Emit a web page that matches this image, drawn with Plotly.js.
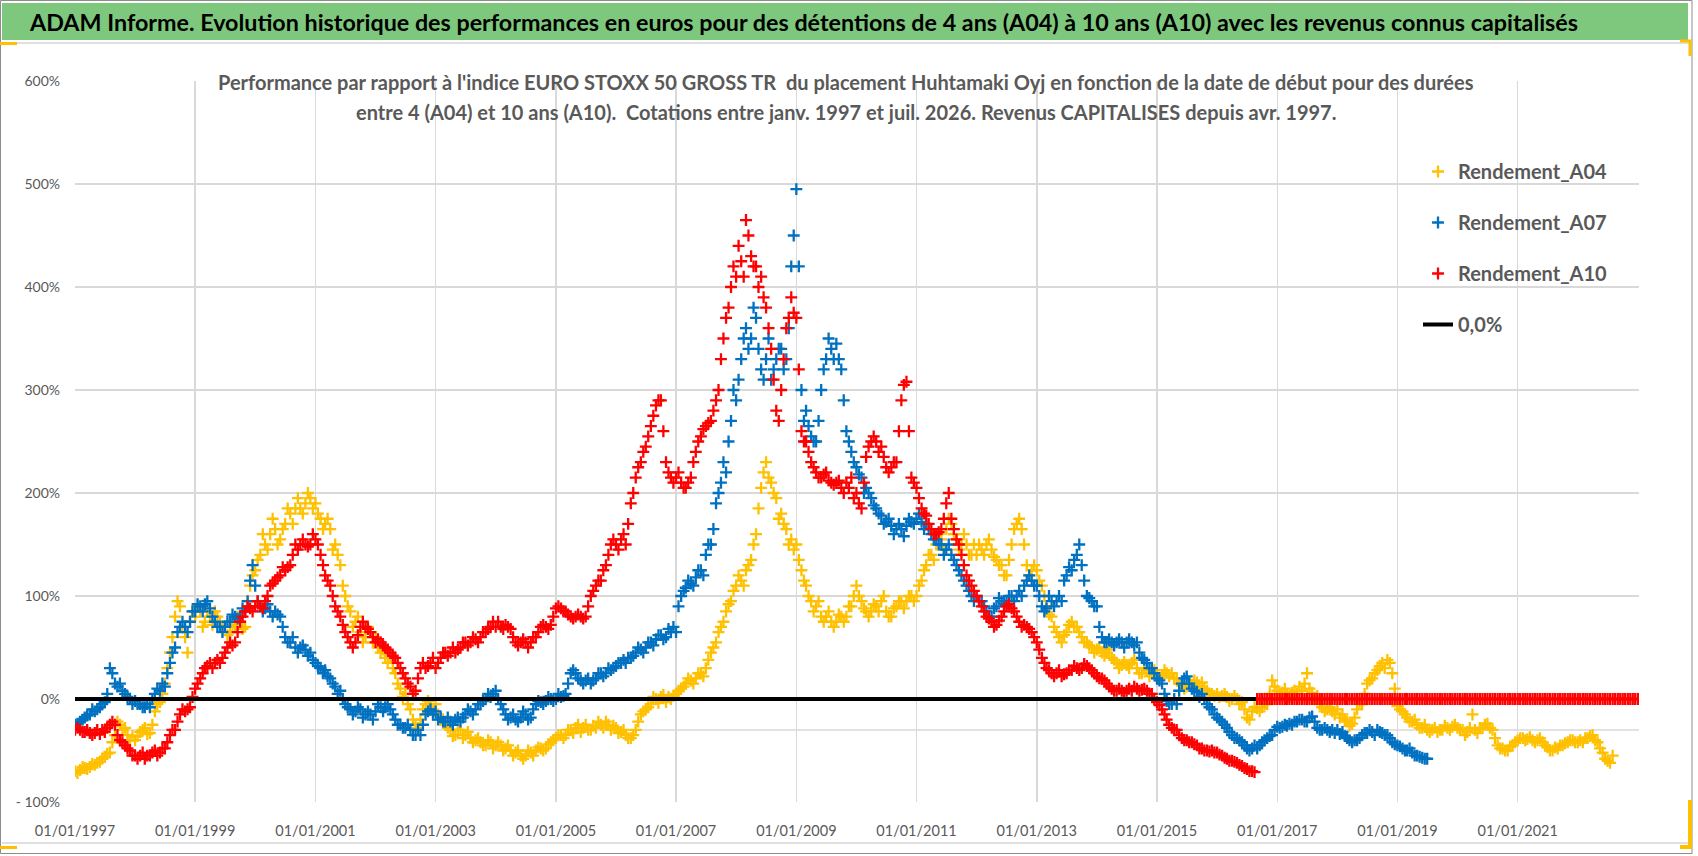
<!DOCTYPE html>
<html>
<head>
<meta charset="utf-8">
<script src="https://cdn.plot.ly/plotly-3.0.1.min.js"></script>
<style>
  body { margin: 0; background: #fff; }
  #chart { width: 1698px; height: 856px; }
</style>
</head>
<body>
<div id="chart"></div>
<script>
// readings (%) on the 1st of each month, first value = january 1997
var a04Start = [1997, 1];
var a04Values = [
  -70, -69, -67, -66, -64, -61, -56, -52, -35, -25, -28, -40,   // 1997
  -40, -32, -28, -33, -12, -3, 15, 45, 80, 90, 60, 75,          // 1998
  80, 85, 75, 80, 85, 75, 70, 65, 70, 75, 70, 110,              // 1999
  125, 140, 150, 160, 165, 155, 170, 180, 185, 185, 190, 195,   // 2000
  190, 175, 170, 165, 150, 130, 100, 85, 75, 65, 60, 65,        // 2001
  60, 45, 40, 40, 25, 10, 5, -10, -25, -20, -5, -5,             // 2002
  -5, -20, -25, -30, -35, -30, -35, -38, -40, -42, -45, -42,    // 2003
  -45, -45, -48, -50, -52, -55, -55, -52, -50, -48, -48, -42,   // 2004
  -38, -35, -35, -30, -28, -32, -25, -30, -28, -25, -22, -30,   // 2005
  -28, -32, -35, -38, -30, -15, -10, -5, 0, 2, -3, 0,           // 2006
  5, 10, 15, 18, 20, 25, 30, 45, 55, 70, 85, 95,                // 2007
  110, 115, 125, 135, 160, 205, 230, 210, 195, 180, 165, 155,   // 2008
  150, 125, 110, 95, 90, 80, 80, 75, 75, 80, 80, 90,            // 2009
  110, 95, 85, 85, 90, 95, 85, 80, 90, 95, 95, 100,             // 2010
  100, 115, 130, 140, 150, 155, 165, 170, 155, 150, 150, 140,   // 2011
  140, 145, 150, 145, 135, 130, 120, 150, 170, 165, 130, 125,   // 2012
  125, 110, 90, 80, 65, 55, 65, 75, 70, 60, 55, 50,             // 2013
  48, 45, 45, 40, 35, 33, 33, 35, 30, 25, 28, 25,               // 2014
  25, 22, 25, 25, 20, 13, 12, 14, 16, 16, 8, 5,                 // 2015
  5, 3, 2, 0, 0, -3, -18, -12, -9, -8, -5, 18,                  // 2016
  8, 6, 5, 6, 5, 8, 25, 6, 3, -8, -10, -12,                     // 2017
  -10, -15, -22, -24, -10, -5, 15, 20, 28, 35, 38, 25,          // 2018
  -7, -12, -18, -22, -25, -28, -30, -30, -32, -30, -28, -27,    // 2019
  -28, -30, -32, -15, -33, -28, -24, -30, -45, -48, -50, -45,   // 2020
  -40, -38, -39, -40, -40, -42, -47, -50, -48, -45, -42, -40,   // 2021
  -42, -42, -38, -35, -42, -52, -60, -55                        // 2022
];
// second reading, middle of each month (spread of the cloud)
var a04Mid = [
  -72, -66, -68, -63, -62, -58, -53, -42, -22, -30, -35, -36,   // 1997
  -36, -30, -34, -25, -5, 5, 30, 60, 95, 70, 45, 85,            // 1998
  90, 70, 85, 72, 80, 70, 62, 72, 80, 68, 95, 120,              // 1999
  135, 160, 145, 175, 150, 165, 185, 170, 195, 180, 200, 185,   // 2000
  180, 165, 175, 145, 140, 110, 90, 70, 80, 55, 70, 55,         // 2001
  50, 48, 35, 30, 15, 2, -5, -20, -28, -10, -2, -12,            // 2002
  -15, -22, -28, -36, -30, -38, -32, -42, -38, -45, -40, -48,   // 2003
  -42, -50, -45, -55, -50, -58, -50, -55, -47, -50, -44, -40,   // 2004
  -35, -38, -30, -33, -25, -28, -30, -26, -22, -28, -25, -26,   // 2005
  -33, -30, -38, -35, -22, -12, -8, 2, -4, 4, 2, 3,             // 2006
  8, 12, 20, 15, 25, 22, 38, 50, 65, 75, 92, 105,               // 2007
  120, 110, 130, 150, 185, 220, 215, 200, 175, 170, 150, 145,   // 2008
  135, 115, 100, 85, 95, 75, 85, 70, 82, 75, 90, 100,           // 2009
  100, 88, 80, 92, 85, 100, 80, 88, 95, 88, 100, 95,            // 2010
  110, 125, 140, 135, 160, 145, 175, 160, 145, 160, 140, 150,   // 2011
  150, 140, 155, 138, 130, 120, 135, 165, 175, 150, 120, 130,   // 2012
  115, 100, 82, 70, 60, 62, 72, 70, 65, 55, 52, 45,             // 2013
  50, 42, 48, 38, 30, 36, 30, 38, 25, 30, 22, 28,               // 2014
  20, 28, 22, 20, 15, 10, 15, 18, 12, 10, 5, 3,                 // 2015
  2, 5, -2, 3, -5, -10, -20, -8, -12, -5, 5, 12,                // 2016
  5, 10, 2, 8, 12, 15, 10, 0, -5, -12, -8, -15,                 // 2017
  -18, -20, -26, -18, -5, 5, 18, 25, 32, 30, 35, 10,            // 2018
  -10, -15, -22, -20, -28, -25, -32, -28, -30, -26, -30, -25,   // 2019
  -30, -35, -28, -30, -28, -25, -28, -38, -48, -50, -46, -42,   // 2020
  -38, -40, -37, -42, -38, -45, -50, -47, -45, -43, -40, -42,   // 2021
  -40, -38, -36, -40, -48, -58, -62                             // 2022
];

var a07Start = [1997, 1];
var a07Values = [
  -25, -22, -18, -15, -12, -8, -3, 30, 15, 15, 5, 0,            // 1997
  -2, -5, -8, -8, 5, 8, 12, 35, 50, 70, 70, 75,                 // 1998
  85, 90, 92, 88, 75, 70, 70, 75, 80, 80, 85, 115,              // 1999
  110, 90, 88, 85, 85, 80, 60, 55, 50, 50, 48, 45,              // 2000
  35, 30, 28, 20, 12, 8, -5, -10, -12, -10, -15, -15,           // 2001
  -12, -8, -8, -10, -20, -25, -28, -30, -35, -35, -15, -10,     // 2002
  -12, -18, -22, -22, -20, -22, -15, -12, -10, -5, 0, 2,        // 2003
  8, -5, -15, -18, -20, -18, -15, -18, -5, -3, -2, 0,           // 2004
  0, 2, 5, 25, 25, 18, 18, 15, 20, 25, 25, 28,                  // 2005
  32, 35, 35, 40, 45, 48, 50, 55, 58, 62, 60, 65,               // 2006
  65, 100, 108, 112, 118, 125, 140, 150, 190, 210, 220, 270,    // 2007
  290, 330, 360, 350, 370, 320, 330, 310, 330, 340, 330, 420,   // 2008
  495, 300, 280, 255, 250, 300, 330, 340, 345, 320, 260, 240,   // 2009
  225, 215, 205, 195, 185, 178, 172, 168, 165, 165, 168, 172,   // 2010
  175, 172, 170, 160, 155, 150, 145, 140, 130, 120, 110, 100,   // 2011
  100, 95, 85, 80, 90, 95, 95, 100, 100, 100, 115, 115,         // 2012
  110, 90, 88, 95, 95, 95, 120, 125, 140, 130, 100, 95,         // 2013
  90, 60, 55, 55, 55, 55, 55, 55, 55, 40, 35, 30,               // 2014
  20, 15, -2, -5, -5, 15, 22, 10, 7, 5, -5, -10,                // 2015
  -18, -22, -28, -35, -38, -42, -48, -48, -48, -42, -38, -35,   // 2016
  -27, -27, -26, -25, -22, -20, -22, -17, -28, -30, -30, -30,   // 2017
  -30, -32, -38, -42, -40, -35, -33, -32, -30, -33, -35, -42,   // 2018
  -45, -48, -50, -52, -55, -57, -58                             // 2019
];
var a07Mid = [
  -24, -20, -16, -10, -10, -5, 5, 25, 12, 8, 2, -5,             // 1997
  -5, -8, -5, 0, 10, 15, 25, 45, 65, 75, 65, 85,                // 1998
  92, 85, 95, 80, 70, 65, 75, 82, 78, 88, 95, 130,              // 1999
  95, 85, 92, 80, 82, 70, 55, 60, 45, 52, 42, 38,               // 2000
  32, 25, 22, 15, 5, 0, -8, -15, -8, -18, -12, -20,             // 2001
  -5, -12, -5, -15, -25, -28, -25, -35, -30, -25, -12, -15,     // 2002
  -20, -22, -18, -25, -18, -18, -10, -15, -5, -2, 5, 5,         // 2003
  0, -10, -20, -15, -22, -12, -20, -10, -2, -5, 2, -2,          // 2004
  5, 3, 15, 28, 20, 15, 20, 18, 25, 22, 30, 30,                 // 2005
  35, 38, 40, 42, 50, 45, 55, 52, 62, 58, 68, 70,               // 2006
  90, 105, 115, 110, 125, 120, 150, 165, 200, 230, 250, 300,    // 2007
  310, 350, 340, 380, 340, 310, 350, 320, 340, 320, 360, 450,   // 2008
  420, 270, 265, 250, 270, 320, 350, 330, 330, 290, 250, 230,   // 2009
  218, 200, 200, 188, 180, 170, 175, 160, 170, 158, 175, 170,   // 2010
  180, 165, 165, 155, 150, 140, 150, 135, 125, 115, 105, 95,    // 2011
  95, 90, 80, 88, 98, 92, 100, 95, 105, 110, 120, 110,          // 2012
  100, 85, 100, 90, 100, 115, 128, 135, 150, 115, 98, 90,       // 2013
  70, 55, 58, 52, 58, 50, 58, 52, 45, 38, 30, 25,               // 2014
  18, 5, -5, 0, 8, 20, 15, 8, 2, 0, -8, -15,                    // 2015
  -20, -25, -32, -38, -40, -45, -50, -45, -45, -40, -36, -30,   // 2016
  -28, -25, -24, -22, -20, -22, -18, -22, -30, -28, -32, -33,   // 2017
  -34, -36, -40, -40, -38, -33, -30, -35, -32, -35, -38, -44,   // 2018
  -46, -50, -48, -55, -56, -58                                  // 2019
];

var a10Start = [1997, 1];
var a10Values = [
  -30, -30, -32, -33, -33, -34, -32, -25, -25, -40, -45, -50,   // 1997
  -55, -55, -58, -55, -50, -52, -48, -35, -30, -15, -12, -8,    // 1998
  10, 20, 30, 35, 35, 35, 45, 55, 55, 75, 85, 88,               // 1999
  90, 90, 95, 110, 115, 120, 125, 130, 150, 150, 150, 150,      // 2000
  155, 140, 120, 110, 90, 80, 65, 55, 55, 70, 70, 65,           // 2001
  55, 55, 50, 45, 40, 30, 20, 12, 8, 30, 30, 35,                // 2002
  30, 40, 45, 45, 45, 50, 55, 55, 58, 60, 65, 70,               // 2003
  70, 70, 72, 68, 55, 55, 55, 55, 60, 70, 70, 72,               // 2004
  88, 88, 85, 80, 80, 80, 80, 100, 110, 115, 130, 150,          // 2005
  150, 155, 150, 190, 215, 230, 245, 265, 285, 290, 230, 215,   // 2006
  215, 210, 205, 215, 240, 255, 265, 270, 290, 330, 370, 400,   // 2007
  410, 425, 465, 430, 420, 410, 380, 340, 280, 300, 360, 390,   // 2008
  370, 260, 250, 230, 220, 215, 220, 210, 210, 205, 210, 215,   // 2009
  200, 185, 235, 250, 250, 245, 225, 225, 230, 290, 308, 215,   // 2010
  205, 185, 178, 165, 160, 165, 190, 175, 155, 140, 120, 110,   // 2011
  100, 90, 80, 75, 72, 80, 90, 88, 80, 70, 70, 65,              // 2012
  55, 40, 30, 25, 25, 22, 25, 28, 30, 30, 32, 28,               // 2013
  22, 20, 15, 10, 8, 8, 8, 8, 10, 9, 8, 5,                      // 2014
  -3, -10, -20, -28, -30, -38, -40, -42, -45, -48, -50, -50,    // 2015
  -52, -55, -58, -60, -62, -65, -68, -70,                       // 2016 (jan-aug)
  0, 0, 0, 0,                                                   // 2016 (sep-dec)
  0, 0, 0, 0, 0, 0, 0, 0, 0, 0, 0, 0,                           // 2017
  0, 0, 0, 0, 0, 0, 0, 0, 0, 0, 0, 0,                           // 2018
  0, 0, 0, 0, 0, 0, 0, 0, 0, 0, 0, 0,                           // 2019
  0, 0, 0, 0, 0, 0, 0, 0, 0, 0, 0, 0,                           // 2020
  0, 0, 0, 0, 0, 0, 0, 0, 0, 0, 0, 0,                           // 2021
  0, 0, 0, 0, 0, 0, 0, 0, 0, 0, 0, 0,                           // 2022
  0                                                             // 2023
];
var a10Mid = [
  -28, -32, -30, -35, -30, -30, -28, -22, -35, -42, -48, -55,   // 1997
  -58, -52, -55, -52, -55, -48, -42, -30, -22, -10, -10, 2,     // 1998
  15, 25, 32, 30, 38, 40, 50, 52, 65, 80, 90, 85,               // 1999
  95, 88, 100, 112, 118, 128, 128, 140, 145, 155, 148, 160,     // 2000
  150, 130, 115, 100, 85, 72, 60, 50, 62, 75, 68, 60,           // 2001
  58, 52, 48, 42, 35, 25, 15, 5, 20, 35, 32, 40,                // 2002
  35, 45, 42, 50, 48, 55, 52, 60, 55, 65, 68, 75,               // 2003
  75, 68, 70, 60, 52, 58, 50, 60, 65, 72, 68, 80,               // 2004
  90, 85, 82, 78, 82, 78, 90, 105, 115, 125, 140, 155,          // 2005
  145, 160, 170, 200, 225, 240, 255, 275, 290, 260, 220, 210,   // 2006
  220, 205, 210, 230, 250, 262, 268, 280, 300, 350, 380, 420,   // 2007
  440, 410, 450, 420, 400, 390, 360, 310, 270, 330, 370, 375,   // 2008
  320, 250, 240, 225, 215, 218, 212, 208, 212, 200, 205, 195,   // 2009
  190, 210, 245, 255, 240, 235, 220, 230, 260, 305, 260, 210,   // 2010
  195, 180, 170, 160, 162, 175, 200, 165, 150, 130, 115, 105,   // 2011
  95, 85, 78, 70, 76, 85, 92, 85, 75, 72, 68, 60,               // 2012
  48, 35, 28, 22, 28, 24, 28, 32, 28, 34, 30, 25,               // 2013
  20, 18, 12, 8, 10, 6, 10, 12, 8, 10, 5, 0,                    // 2014
  -6, -15, -25, -30, -35, -40, -42, -44, -48, -50, -51, -52,    // 2015
  -54, -57, -60, -61, -64, -67, -70, -71,                       // 2016 (jan-aug)
  0, 0, 0, 0,                                                   // 2016 (sep-dec)
  0, 0, 0, 0, 0, 0, 0, 0, 0, 0, 0, 0,                           // 2017
  0, 0, 0, 0, 0, 0, 0, 0, 0, 0, 0, 0,                           // 2018
  0, 0, 0, 0, 0, 0, 0, 0, 0, 0, 0, 0,                           // 2019
  0, 0, 0, 0, 0, 0, 0, 0, 0, 0, 0, 0,                           // 2020
  0, 0, 0, 0, 0, 0, 0, 0, 0, 0, 0, 0,                           // 2021
  0, 0, 0, 0, 0, 0, 0, 0, 0, 0, 0, 0                            // 2022
];

var zeroDates = ['1997-01-01', '2016-08-25'];
var zeroValues = [0, 0];

var tickYears = ['1997', '1999', '2001', '2003', '2005', '2007', '2009', '2011', '2013', '2015', '2017', '2019', '2021'];
var yTickVals = [-100, 0, 100, 200, 300, 400, 500, 600];
var yTickText = ['- 100%', '0%', '100%', '200%', '300%', '400%', '500%', '600%'];

var mainTitle = 'ADAM Informe. Evolution historique des performances en euros pour des détentions de 4 ans (A04) à 10 ans (A10) avec les revenus connus capitalisés';
var subTitle1 = "Performance par rapport à l'indice EURO STOXX 50 GROSS TR  du placement Huhtamaki Oyj en fonction de la date de début pour des durées";
var subTitle2 = 'entre 4 (A04) et 10 ans (A10).  Cotations entre janv. 1997 et juil. 2026. Revenus CAPITALISES depuis avr. 1997.';

function monthDates(start, n, day) {
  var out = [];
  for (var i = 0; i < n; i++) {
    var t = start[0] * 12 + (start[1] - 1) + i;
    var y = Math.floor(t / 12), m = t % 12 + 1;
    out.push(y + '-' + (m < 10 ? '0' : '') + m + '-' + day);
  }
  return out;
}

// pixel -> paper helpers (plot area 75..1639 x 81..802)
var W = 1698, H = 856, L = 75, R = 59, T = 81, B = 54;
function X(px) { return (px - L) / (W - L - R); }
function Y(py) { return (H - B - py) / (H - T - B); }

var FONT = 'Lato, "Open Sans", sans-serif';
var GREY = '#595959';

function crossTrace(name, start, vals, mid, color) {
  return {
    type: 'scatter', mode: 'markers', name: name, legendgroup: name,
    x: monthDates(start, vals.length, '01').concat(monthDates(start, mid.length, '16')),
    y: vals.concat(mid),
    marker: { symbol: 'cross-thin', size: 8.5, line: { width: 2.3, color: color }, color: color }
  };
}

var data = [
  crossTrace('Rendement_A04', a04Start, a04Values, a04Mid, '#FFC000'),
  crossTrace('Rendement_A07', a07Start, a07Values, a07Mid, '#0070C0'),
  crossTrace('Rendement_A10', a10Start, a10Values, a10Mid, '#FF0000'),
  {
    type: 'scatter', mode: 'lines', name: '0,0%', legendgroup: 'zero',
    x: zeroDates, y: zeroValues, line: { color: '#000000', width: 4 }
  }
];

var shapes = [
  // outer frame
  { type: 'rect', xref: 'paper', yref: 'paper', x0: X(0.5), x1: X(1692), y0: Y(853.5), y1: Y(0.5),
    line: { color: '#8c8c8c', width: 1 }, layer: 'below' },
  // green header band
  { type: 'rect', xref: 'paper', yref: 'paper', x0: X(2), x1: X(1688), y0: Y(40), y1: Y(3),
    fillcolor: '#7EC87E', line: { width: 0 }, layer: 'below' },
  { type: 'line', xref: 'paper', yref: 'paper', x0: X(2), x1: X(1690), y0: Y(43), y1: Y(43),
    line: { color: '#d6d6d6', width: 1.5 }, layer: 'below' },
  { type: 'line', xref: 'paper', yref: 'paper', x0: X(2), x1: X(1690), y0: Y(843), y1: Y(843),
    line: { color: '#d6d6d6', width: 1.5 }, layer: 'below' },
  // selection handles
  { type: 'rect', xref: 'paper', yref: 'paper', x0: X(0), x1: X(17), y0: Y(45), y1: Y(42),
    fillcolor: '#FFC000', line: { width: 0 } },
  { type: 'rect', xref: 'paper', yref: 'paper', x0: X(0), x1: X(17), y0: Y(849), y1: Y(846),
    fillcolor: '#FFC000', line: { width: 0 } },
  { type: 'path', xref: 'paper', yref: 'paper',
    path: 'M' + X(1680) + ',' + Y(41) + ' L' + X(1690) + ',' + Y(41) + ' L' + X(1690) + ',' + Y(56),
    line: { color: '#FFC000', width: 3 } },
  { type: 'path', xref: 'paper', yref: 'paper',
    path: 'M' + X(1690) + ',' + Y(800) + ' L' + X(1690) + ',' + Y(847) + ' L' + X(1680) + ',' + Y(847),
    line: { color: '#FFC000', width: 4 } },
  // extra horizontal line at -30%
  { type: 'line', xref: 'paper', yref: 'y', x0: 0, x1: 1, y0: -30, y1: -30,
    line: { color: '#D9D9D9', width: 1.5 }, layer: 'below' },
  // white boxes behind the chart title and the legend
  { type: 'rect', xref: 'paper', yref: 'paper', x0: X(205), x1: X(1488), y0: Y(130), y1: Y(60),
    fillcolor: '#ffffff', line: { width: 0 }, layer: 'between' },
  { type: 'rect', xref: 'paper', yref: 'paper', x0: X(1384), x1: X(1641), y0: Y(345), y1: Y(147),
    fillcolor: '#ffffff', line: { width: 0 }, layer: 'between' }
];

var annotations = [
  { text: mainTitle, xref: 'paper', yref: 'paper', x: X(27), y: Y(22), xanchor: 'left', yanchor: 'middle',
    showarrow: false, font: { family: FONT, size: 23.3, color: '#000000', weight: 'bold' } },
  { text: subTitle1, xref: 'paper', yref: 'paper', x: X(846), y: Y(82), xanchor: 'center', yanchor: 'middle',
    showarrow: false, font: { family: FONT, size: 20, color: GREY, weight: 'bold' } },
  { text: subTitle2, xref: 'paper', yref: 'paper', x: X(846), y: Y(112), xanchor: 'center', yanchor: 'middle',
    showarrow: false, font: { family: FONT, size: 20, color: GREY, weight: 'bold' } }
];

var layout = {
  width: W, height: H,
  margin: { l: L, r: R, t: T, b: B },
  paper_bgcolor: '#ffffff', plot_bgcolor: '#ffffff',
  font: { family: FONT, color: GREY },
  showlegend: true,
  legend: {
    x: X(1418), xanchor: 'left', y: Y(152), yanchor: 'top',
    bgcolor: 'rgba(0,0,0,0)', borderwidth: 0,
    font: { family: FONT, size: 20, color: GREY, weight: 'bold' },
    tracegroupgap: 22, itemwidth: 30
  },
  xaxis: {
    type: 'date', range: ['1997-01-01', '2023-01-08'],
    tickvals: tickYears.map(function (y) { return y + '-01-01'; }),
    ticktext: tickYears.map(function (y) { return '01/01/' + y; }),
    showgrid: true, gridcolor: '#D9D9D9', gridwidth: 1.5,
    zeroline: false, showline: false, ticks: '', ticklabelstandoff: 18,
    tickfont: { family: FONT, size: 14.5, color: GREY }
  },
  yaxis: {
    range: [-100, 600],
    tickvals: yTickVals, ticktext: yTickText,
    showgrid: true, gridcolor: '#D9D9D9', gridwidth: 1.5,
    zeroline: false, showline: false, ticks: '', ticklabelstandoff: 14,
    tickfont: { family: FONT, size: 14, color: GREY }
  },
  shapes: shapes,
  annotations: annotations
};

Plotly.newPlot('chart', data, layout, { staticPlot: true, displayModeBar: false });
</script>
</body>
</html>
